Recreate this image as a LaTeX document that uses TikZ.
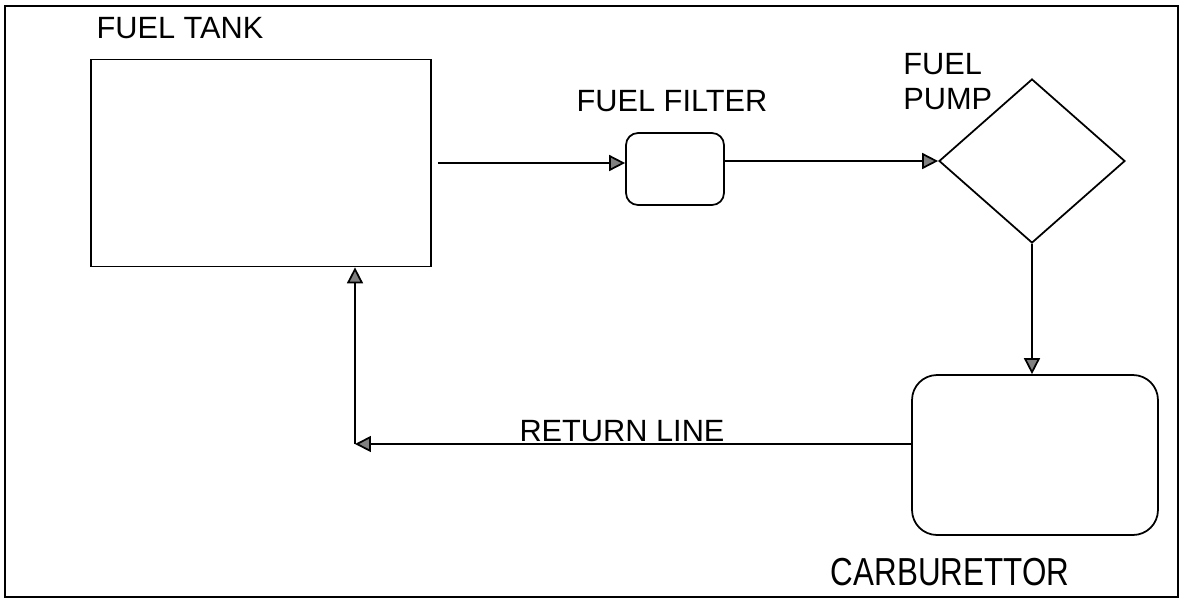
\documentclass[tikz,border=0pt]{standalone}
\usepackage{fontspec}
\setmainfont{Liberation Sans}
\usetikzlibrary{arrows.meta,shapes.geometric}

\tikzset{
  part/.style={draw, line width=1pt, inner sep=0pt},
  lbl/.style={inner sep=0pt, font=\fontsize{17.5}{20}\selectfont},
  flow/.style={line width=1pt, -{Triangle[length=0.32cm, width=0.32cm, fill=gray]}}
}

\begin{document}
\begin{tikzpicture}[x=0.02cm, y=-0.02cm]

      \useasboundingbox (0,0) rectangle (1181,600);

      % Frame
      \draw[line width=1.6pt] (5,6) rectangle (1178,597);

      % Parts
      \node[part, minimum width=6.8cm, minimum height=4.14cm] (tank) at (261,163) {};
      \node[part, rounded corners=0.24cm, minimum width=1.96cm, minimum height=1.44cm] (filter) at (675,169) {};
      \node[part, diamond, minimum width=3.72cm, minimum height=3.28cm] (pump) at (1032,161) {};
      \node[part, rounded corners=0.5cm, minimum width=4.92cm, minimum height=3.2cm] (carb) at (1035,455) {};

      % Labels
      \node[lbl] (tanklbl) at (180,28) {FUEL TANK};
      \node[lbl] (filterlbl) at (672,101) {FUEL FILTER};
      \node[lbl, anchor=north west, align=left] (pumplbl) at (903,53) {FUEL\\PUMP};
      \node[lbl] (returnlbl) at (622,431.5) {RETURN LINE};
      \node[lbl] (carblbl) at (950,572.5) {\scalebox{1.02}[1.27]{CARBURETTOR}};

      % Fuel flow
      \draw[flow] ([xshift=0.12cm]tank.east) -- (tank.east -| filter.west);
      \draw[flow] (filter.east |- pump.west) -- (pump.west);
      \draw[flow] (pump.south) -- (pump.south |- carb.north);

      % Return line
      \coordinate (bend) at (355,444);
      \draw[flow] ([yshift=0.22cm]carb.west) -- (bend);
      \draw[flow] (bend) -- (bend |- tank.south);

\end{tikzpicture}
\end{document}
